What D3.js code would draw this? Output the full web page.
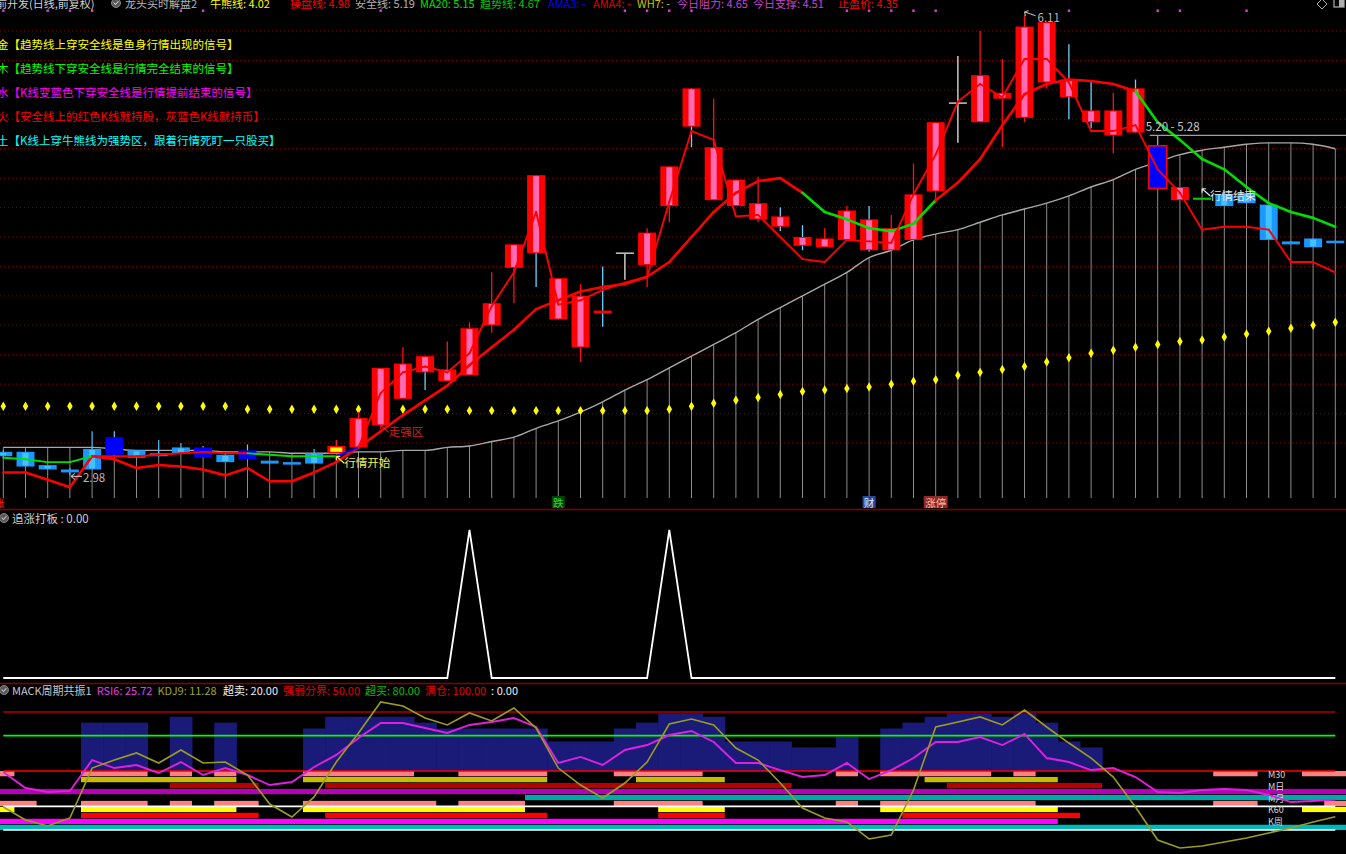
<!DOCTYPE html>
<html><head><meta charset="utf-8">
<script src="https://cdn.jsdelivr.net/npm/d3@7"></script>
<style>
html,body{margin:0;padding:0;background:#000;overflow:hidden}
svg{display:block}
text{font-family:"Noto Sans CJK SC","Noto Sans",sans-serif}
</style>
</head><body>
<svg id="c" width="1346" height="854"></svg>
<script>
// ---------------- DATA ----------------
const open  = [3.14,3.14,3.05,3.02,3.02,3.24,3.15,3.11,3.13,3.17,3.12,3.15,3.08,3.07,3.06,3.13,3.17,3.32,3.50,3.79,3.62,3.66,4.00,4.39,5.02,4.32,3.85,4.10,4.49,4.41,4.81,5.61,4.85,4.81,4.72,4.74,4.60,4.53,4.58,4.72,4.51,4.58,4.91,5.51,5.38,5.54,5.41,5.65,5.67,5.46,5.29,5.61,5.22,4.85,4.86,4.89,4.83,4.82,4.57,4.53,4.575];
const high  = [3.15,3.14,3.05,3.03,3.28,3.28,3.15,3.22,3.20,3.18,3.12,3.19,3.08,3.07,3.16,3.22,3.41,3.71,3.85,3.79,3.89,4.02,4.36,4.55,5.02,4.32,4.28,4.40,4.49,4.66,5.08,5.61,5.54,4.99,5.01,4.80,4.68,4.66,4.81,4.81,4.75,5.10,5.38,5.83,6.00,5.81,6.11,6.06,5.91,5.66,5.58,5.67,5.29,4.94,4.86,4.89,4.90,4.82,4.57,4.59,4.575];
const low   = [3.10,3.04,3.02,2.98,3.02,3.12,3.10,3.11,3.13,3.10,3.07,3.09,3.06,3.06,3.06,3.13,3.17,3.32,3.50,3.56,3.62,3.66,3.95,4.15,4.26,4.04,3.75,3.99,4.31,4.26,4.70,5.21,4.85,4.81,4.70,4.64,4.51,4.53,4.58,4.50,4.51,4.58,4.83,5.24,5.38,5.21,5.38,5.61,5.40,5.34,5.17,5.31,4.93,4.85,4.86,4.81,4.83,4.58,4.55,4.53,4.568];
const close = [3.11,3.04,3.02,3.00,3.16,3.12,3.10,3.13,3.17,3.10,3.07,3.09,3.06,3.065,3.13,3.18,3.37,3.71,3.74,3.68,3.70,3.98,4.15,4.55,4.49,4.04,4.20,4.08,4.49,4.63,5.08,5.35,5.21,4.99,4.83,4.67,4.54,4.59,4.78,4.51,4.66,4.89,5.38,5.51,5.70,5.58,6.03,6.06,5.55,5.38,5.46,5.31,4.93,4.94,4.86,4.81,4.90,4.58,4.55,4.59,4.57];
// candle colour class: b light blue, d dark blue, D dark blue framed, y yellow, r red, g grey doji, n green doji
const candleKind = "bbbbbdbbbdbdbbbyrrrrrrrrrrrrgrrrrrrrrrrrrrrgrrrrrrrrDrnbbbbbb".split("");

const trendLine = [3.00,3.00,2.95,2.90,3.11,3.09,3.03,3.05,3.04,3.02,2.98,3.03,2.94,2.94,3.00,3.07,3.17,3.28,3.39,3.49,3.59,3.73,3.85,3.97,4.11,4.17,4.23,4.26,4.28,4.33,4.43,4.60,4.77,4.90,4.98,5.00,4.90,4.77,4.72,4.66,4.64,4.69,4.85,4.97,5.13,5.36,5.57,5.64,5.67,5.66,5.64,5.59,5.38,5.26,5.13,5.06,4.94,4.83,4.77,4.73,4.67];
// segment state i->i+1 : r red, g green
const trendSeg = "rrrrrrrrrrrrrrrrrrrrrrrrrrrrrrrrrrrrggggggrrrrrrrrrggggggggg".split("");
const fastLine = [3.10,3.09,3.07,3.07,3.11,3.11,3.11,3.12,3.13,3.14,3.13,3.13,3.12,3.11,3.11,3.11,3.17,3.54,3.68,3.72,3.68,3.81,4.13,4.36,4.77,4.14,4.17,4.24,4.29,4.33,4.84,5.32,5.26,4.74,4.75,4.60,4.45,4.43,4.58,4.57,4.56,4.89,5.16,5.52,5.64,5.55,5.81,5.81,5.65,5.32,5.32,5.36,5.06,4.90,4.65,4.67,4.67,4.65,4.43,4.43,4.36];
const fastSeg = "ggggrrrrrrrggggbrrrrrrrrrrrrrrrrrrrrrrrrrrrrrrrrrrrrrrrrrrrr".split("");
const safetyLine = [3.17,3.17,3.17,3.17,3.17,3.16,3.15,3.15,3.15,3.15,3.14,3.14,3.14,3.13,3.13,3.13,3.14,3.14,3.15,3.15,3.17,3.18,3.21,3.24,3.30,3.35,3.41,3.48,3.56,3.63,3.71,3.79,3.87,3.95,4.04,4.12,4.20,4.28,4.36,4.46,4.51,4.58,4.62,4.65,4.70,4.75,4.79,4.83,4.88,4.94,4.99,5.06,5.11,5.16,5.19,5.21,5.23,5.24,5.24,5.23,5.20];
const bullBear = [3.45,3.45,3.45,3.45,3.45,3.45,3.45,3.45,3.45,3.45,3.45,3.43,3.43,3.43,3.43,3.43,3.43,3.43,3.43,3.43,3.43,3.42,3.42,3.42,3.42,3.42,3.42,3.42,3.42,3.42,3.43,3.45,3.47,3.49,3.51,3.53,3.55,3.56,3.57,3.58,3.60,3.62,3.63,3.66,3.68,3.70,3.72,3.75,3.78,3.81,3.83,3.85,3.87,3.89,3.90,3.92,3.94,3.96,3.98,4.00,4.02];
const gridPrices = [3.2,3.4,3.6,3.8,4.0,4.2,4.4,4.6,4.8,5.0,5.2,5.4,5.6,5.8,6.0];
const topMarks = [0,2,3,4,8,9,17,28,29,30,31,38,39,40,41,42,48,52,53,56];

const headerLabels = ["牛熊线","操盘线","安全线","MA20","趋势线","AMA3","AMA4","WH7","今日阻力","今日支撑","止盈价"];
const headerValues = ["4.02","4.98","5.19","5.15","4.67","-","-","-","4.65","4.51","4.35"];
const legendLines = [
  "金【趋势线上穿安全线是鱼身行情出现的信号】",
  "木【趋势线下穿安全线是行情完全结束的信号】",
  "水【K线变蓝色下穿安全线是行情提前结束的信号】",
  "火【安全线上的红色K线就持股，灰蓝色K线就持币】",
  "土【K线上穿牛熊线为强势区，跟着行情死盯一只股买】"
];
const bottomTags = [[0,"涨"],[25,"跌"],[39,"财"],[42,"涨停"]];
const rangeNote = [5.20, 5.28];

// panel 2
const zhuiZhang = [0,0,0,0,0,0,0,0,0,0,0,0,0,0,0,0,0,0,0,0,0,1,0,0,0,0,0,0,0,0,1,0,0,0,0,0,0,0,0,0,0,0,0,0,0,0,0,0,0,0,0,0,0,0,0,0,0,0,0,0,0];
// panel 3
const macdBar = [0,0,0,0,91,91,91,0,96,0,91,0,0,0,86,96,96,96,96,91,86,86,86,86,86,75,75,75,86,91,99,99,96,75,75,75,70,70,79,0,86,91,96,99,99,96,99,91,75,70,0,0,0,0,0,0,0,0,0,0,0];
const rsi6 = [49.2,35.6,32.2,33.1,59.3,52.5,55.1,48.3,57.6,46.6,52.5,46.6,38.1,40.7,53.4,63.6,78.0,90.7,90.7,86.4,82.2,89.0,91.5,94.9,87.3,56.8,61.9,55.1,67.8,72.0,80.5,83.9,74.6,56.8,56.8,50.8,44.9,46.6,56.8,43.2,50.8,61.0,74.6,74.6,78.8,72.0,81.4,61.0,57.6,50.8,52.5,44.9,32.2,31.4,33.9,34.7,33.9,29.7,23.7,24.6,25.72];
const kdj9 = [19.5,8.5,3.4,10.2,52.5,59.3,65.3,56.8,67.8,56.8,57.6,46.6,22.0,11.0,28.0,57.6,82.2,108.5,105.1,94.9,89.0,99.2,92.4,103.4,86.4,52.5,38.1,27.1,39.8,57.6,89.8,94.1,89.0,69.5,59.3,39.8,18.6,10.2,6.8,-7.6,-4.2,33.9,87.3,91.5,95.8,89.0,101.7,87.3,73.7,61.0,44.9,19.5,-8.5,-15.3,-13.6,-10.2,-6.8,-2.5,1.7,6.8,11.28];
const refLevels = [100, 80, 50, 20, 0];
const stripNames = ["M30a","M30b","MDa","MDb","MYa","MYb","K60a","K60b","KWa","KWb"];
const stripRanges = [
  [[0,0],[4,6],[8,8],[10,10],[14,18],[21,24],[28,31],[38,38],[40,44],[46,46],[55,56],[59,60]],
  [[4,10],[14,24],[29,32],[42,47]],
  [[8,11],[15,35],[43,49]],
  [[0,60]],
  [[24,60]],
  [[0,1],[4,6],[8,8],[10,11],[14,19],[21,23],[28,31],[38,38],[40,46],[55,56],[60,60]],
  [[0,0],[4,10],[14,23],[30,32],[40,47],[59,60]],
  [[4,11],[15,24],[30,32],[41,48]],
  [[0,47]],
  [[0,60]]
];
const stripLabels = ["M30","M日","M月","K60","K周"];
const p3Labels = ["MACK周期共振1","RSI6","KDJ9","超卖","强弱分界","超买","满仓",""];
const p3Values = [null,"25.72","11.28","20.00","50.00","80.00","100.00","0.00"];

// ---------------- DRAW ----------------
const N = close.length;
const svg = d3.select("#c");
svg.append("rect").attr("width",1346).attr("height",854).attr("fill","#000");

const x = d3.scaleLinear().domain([-0.5, 60.5]).range([-7.8, 1346.4]);
const step = x(1) - x(0);
const bodyW = step * 0.81;
const y = d3.scaleLinear().domain([3.2, 6.0]).range([443, 31]);
const yZ = d3.scaleLinear().domain([0, 1]).range([678, 530]);
const yK = d3.scaleLinear().domain([0, 100]).range([830, 712]);
const mainBottom = 498;

// lay out a row of texts left to right: preferred x, never overlapping
function textRow(items, yy, fs, gap) {
  let end = -1e9;
  items.forEach(it => {
    const t = svg.append("text").attr("y",yy).attr("font-size",fs).attr("fill",it.c).text(it.t);
    const xx = Math.max(it.x, end + gap);
    t.attr("x", xx);
    end = xx + t.node().getComputedTextLength();
  });
  return end;
}

// grid
svg.append("g").selectAll("line").data(gridPrices).join("line")
  .attr("x1",0).attr("x2",1346).attr("y1",d=>y(d)).attr("y2",d=>y(d))
  .attr("stroke","#8a0000").attr("stroke-width",1).attr("stroke-dasharray","1,3");

// safety line verticals + curve
svg.append("g").selectAll("line").data(safetyLine).join("line")
  .attr("x1",(d,i)=>x(i)).attr("x2",(d,i)=>x(i)).attr("y1",d=>y(d)).attr("y2",mainBottom)
  .attr("stroke","#8c8c8c").attr("stroke-width",1);
svg.append("path").datum(safetyLine)
  .attr("d", d3.line().x((d,i)=>x(i)).y(d=>y(d)).curve(d3.curveMonotoneX))
  .attr("fill","none").attr("stroke","#a8a8a8").attr("stroke-width",1.4);

// bull/bear dots
svg.append("g").selectAll("path").data(bullBear).join("path")
  .attr("transform",(d,i)=>`translate(${x(i)},${y(d)})`)
  .attr("d", d3.symbol(d3.symbolDiamond, 26))
  .attr("fill","#ffff00");

// candles
const gC = svg.append("g");
for (let i = 0; i < N; i++) {
  const k = candleKind[i], cx = x(i), o = open[i], c = close[i];
  const top = y(Math.max(o,c)), bot = y(Math.min(o,c));
  const bh = Math.max(bot - top, 2.5);
  const bx = cx - bodyW/2;
  const wick = (col, w) => gC.append("line").attr("x1",cx).attr("x2",cx)
      .attr("y1",y(high[i])).attr("y2",y(low[i])).attr("stroke",col).attr("stroke-width",w||1.3);
  if (k === "r") {
    wick(c < o ? "#6ad4ff" : "#ff1010", 1.3);
    gC.append("rect").attr("x",bx).attr("y",top).attr("width",bodyW).attr("height",bh).attr("fill","#ff0000");
    if (bh > 4) gC.append("rect").attr("x",cx-bodyW/6).attr("y",top+1).attr("width",bodyW/3).attr("height",bh-2).attr("fill","#ff6ab4");
  } else if (k === "b") {
    wick("#48c4ff", 1.2);
    gC.append("rect").attr("x",bx).attr("y",top).attr("width",bodyW).attr("height",bh).attr("fill","#1a98ff");
    if (bh > 4) gC.append("rect").attr("x",cx-bodyW/6).attr("y",top+1).attr("width",bodyW/3).attr("height",bh-2).attr("fill","#44c2ff");
  } else if (k === "d" || k === "D") {
    wick("#7ac8ff", 1.2);
    gC.append("rect").attr("x",bx).attr("y",top).attr("width",bodyW).attr("height",bh).attr("fill","#0000ff")
      .attr("stroke", k === "D" ? "#ff0000" : "none").attr("stroke-width",1.6);
  } else if (k === "y") {
    wick("#ff2020", 1.3);
    gC.append("rect").attr("x",bx).attr("y",top).attr("width",bodyW).attr("height",bh).attr("fill","#ff0000");
    gC.append("rect").attr("x",bx+3).attr("y",top+1.5).attr("width",bodyW-6).attr("height",bh-3).attr("fill","#ffff00");
  } else if (k === "g") {
    wick("#e8e8e8", 1.3);
    gC.append("line").attr("x1",bx).attr("x2",bx+bodyW).attr("y1",y(o)).attr("y2",y(o)).attr("stroke","#c8c8c8").attr("stroke-width",1.5);
  } else if (k === "n") {
    gC.append("line").attr("x1",bx).attr("x2",bx+bodyW).attr("y1",y(o)).attr("y2",y(o)).attr("stroke","#00c800").attr("stroke-width",2.2);
  }
}

// lines (segmented colours)
const segColor = {r:"#ff0000", g:"#00dd00", b:"#0000ff"};
function segLine(vals, segs, width) {
  const g = svg.append("g");
  for (let s = 0; s < vals.length - 1; s++) {
    g.append("line").attr("x1",x(s)).attr("y1",y(vals[s])).attr("x2",x(s+1)).attr("y2",y(vals[s+1]))
      .attr("stroke",segColor[segs[s]]).attr("stroke-width",width).attr("stroke-linecap","round");
  }
}
segLine(trendLine, trendSeg, 2.6);
segLine(fastLine, fastSeg, 1.9);

// range note line
const i52 = 52;
svg.append("line").attr("x1",x(i52)-8).attr("x2",1346).attr("y1",y(high[i52])).attr("y2",y(high[i52]))
  .attr("stroke","#a0a0a0").attr("stroke-width",1.2);
svg.append("text").attr("x",x(i52)-12).attr("y",y(high[i52])-4).attr("font-size",11.5).attr("fill","#c8c8c8")
  .text(`${rangeNote[0].toFixed(2)} - ${rangeNote[1].toFixed(2)}`);

// annotations
function arrowNW(px, py, col) {
  svg.append("path").attr("d",`M${px},${py} L${px+8},${py+7} M${px},${py} L${px+4},${py} M${px},${py} L${px},${py+4}`)
    .attr("stroke",col).attr("stroke-width",1.2).attr("fill","none");
}
{
  const i = d3.maxIndex(high), px = x(i), py = y(high[i]);
  svg.append("path").attr("d",`M${px},${py-3} L${px+11},${py+1} M${px},${py-3} L${px+4},${py-4} M${px},${py-3} L${px+1},${py+1}`)
    .attr("stroke","#b8b8b8").attr("stroke-width",1.1).attr("fill","none");
  svg.append("text").attr("x",px+13).attr("y",py+7).attr("font-size",11.5).attr("fill","#b8b8b8").text(high[i].toFixed(2));
}
{
  const i = d3.minIndex(low), px = x(i), py = y(low[i]);
  svg.append("path").attr("d",`M${px+1},${py+1} L${px+12},${py+1} M${px+1},${py+1} L${px+5},${py-2} M${px+1},${py+1} L${px+5},${py+4}`)
    .attr("stroke","#b8b8b8").attr("stroke-width",1.1).attr("fill","none");
  svg.append("text").attr("x",px+13).attr("y",py+7).attr("font-size",11.5).attr("fill","#b8b8b8").text(low[i].toFixed(2));
}
{
  const i = 15, px = x(i), py = y(low[i]) + 3;
  arrowNW(px, py, "#f0f050");
  svg.append("text").attr("x",px+8).attr("y",py+11).attr("font-size",11.5).attr("fill","#f0f050").text("行情开始");
}
{
  const i = 17, px = x(i), py = y(low[i]);
  arrowNW(px, py, "#d02020");
  svg.append("text").attr("x",px+8).attr("y",py+11).attr("font-size",11.5).attr("fill","#d02020").text("走强区");
}
{
  const i = 54, px = x(i), py = y(close[i]) - 10;
  arrowNW(px, py, "#e8e8e8");
  svg.append("text").attr("x",px+8).attr("y",py+11).attr("font-size",11.5).attr("fill","#e8e8e8").text("行情结束");
}

// bottom tags
const tagStyle = {"涨":["#ff2020",null],"跌":["#20e020","#0c3c0c"],"财":["#e0f0ff","#2a4aa0"],"涨停":["#ffb8a8","#8a2a2a"]};
bottomTags.forEach(([i,t]) => {
  const [fg,bg] = tagStyle[t];
  const w = t.length * 11;
  const cx = i === 0 ? x(i) - 4 : x(i);
  if (bg) svg.append("rect").attr("x",cx-w/2-1).attr("y",496).attr("width",w+2).attr("height",12).attr("fill",bg);
  svg.append("text").attr("x",cx).attr("y",506.5).attr("text-anchor","middle").attr("font-size",10.5).attr("fill",fg).text(t);
});

// top magenta marks
svg.append("g").selectAll("rect").data(topMarks).join("rect")
  .attr("x",d=>x(d)-1.2).attr("y",9.5).attr("width",2.4).attr("height",2.4).attr("fill","#e040e0");

// header
function circIcon(cx, cy) {
  svg.append("circle").attr("cx",cx).attr("cy",cy).attr("r",4.5).attr("fill","#5a5a5a").attr("stroke","#9a9a9a").attr("stroke-width",0.8);
  svg.append("path").attr("d",`M${cx-2.2},${cy-0.5} L${cx-0.5},${cy+1.6} L${cx+2.3},${cy-1.8}`).attr("stroke","#e0e0e0").attr("stroke-width",1).attr("fill","none");
}
circIcon(116, 3);
{
  const headerX = [210,290,355,420,480,548,593,637,677,750,838];
  const headerCol = ["#ffff00","#ff0000","#b0b0b0","#00e000","#00c800","#0000ff","#e00000","#c8c000","#d040d0","#d040d0","#ff0000"];
  const items = [{t:"前开发(日线,前复权)",c:"#d0d0d0",x:-4}];
  textRow(items, 8, 11, 4);
  textRow([{t:"龙头买时解盘2",c:"#b8b8b8",x:125}], 8, 11, 4);
  textRow(headerLabels.map((l,k)=>({t:`${l}: ${headerValues[k]}`, c:headerCol[k], x:headerX[k]})), 8, 11, 5);
}
svg.append("path").attr("d","M1322,-1 L1327,4 L1322,9 L1317,4 Z").attr("fill","none").attr("stroke","#b0b0b0").attr("stroke-width",1);
svg.append("rect").attr("x",1334).attr("y",-3).attr("width",10).attr("height",10).attr("fill","none").attr("stroke","#b0b0b0").attr("stroke-width",1.2);
svg.append("rect").attr("x",1339).attr("y",-3).attr("width",5).attr("height",10).attr("fill","#b0b0b0");

// legend lines
const legendCol = ["#ffff00","#00ff00","#ff00ff","#ff0000","#00ffff"];
legendLines.forEach((t,k) => {
  svg.append("text").attr("x",-3).attr("y",49 + k*24).attr("font-size",11.5).attr("fill",legendCol[k]).text(t);
});

// separators
[509.5, 683.5].forEach(v => svg.append("line").attr("x1",0).attr("x2",1346).attr("y1",v).attr("y2",v).attr("stroke","#8a0000").attr("stroke-width",1.5));

// ---- panel 2 ----
circIcon(4, 518);
svg.append("text").attr("x",12).attr("y",522.5).attr("font-size",11.5).attr("fill","#d0d0d0").text(`追涨打板 : ${zhuiZhang[N-1].toFixed(2)}`);
svg.append("path").datum(zhuiZhang)
  .attr("d", d3.line().x((d,i)=>x(i)).y(d=>yZ(d)))
  .attr("fill","none").attr("stroke","#ffffff").attr("stroke-width",1.8);

// ---- panel 3 ----
circIcon(4, 690);
{
  const px = [12,95,157,223,283,364,425,490];
  const pc = ["#c8c8c8","#e040e0","#a0a030","#f0f0f0","#e00000","#00c000","#e00000","#f0f0f0"];
  textRow(p3Labels.map((l,k)=>({t: p3Values[k] === null ? l : `${l}: ${p3Values[k]}`, c:pc[k], x:px[k]})), 694.5, 11, 5);
}
// navy bars from 50 up
svg.append("g").selectAll("rect").data(macdBar.map((v,i)=>[v,i]).filter(d=>d[0]>50)).join("rect")
  .attr("x",d=>x(d[1])-step/2).attr("width",step+0.5)
  .attr("y",d=>yK(d[0])).attr("height",d=>yK(50)-yK(d[0]))
  .attr("fill","#1a1a78");
// strips
const yS = d3.scaleBand().domain(stripNames).range([771, 830]).paddingInner(0.12);
const stripCol = ["#ff8080","#c8bc00","#b40000","#b400b4","#00a8a8","#ff8080","#ffff00","#ff0000","#ff00ff","#00b8b8"];
stripNames.forEach((nm,k) => {
  svg.append("g").selectAll("rect").data(stripRanges[k]).join("rect")
    .attr("x",d=>x(d[0])-step/2).attr("width",d=>x(d[1])-x(d[0])+step)
    .attr("y",yS(nm)).attr("height",yS.bandwidth()).attr("fill",stripCol[k]);
});
// reference lines
const refCol = ["#b00000","#00ff00","#ff0000","#ffffff","#ffffff"];
refLevels.forEach((v,k) => {
  svg.append("line").attr("x1",x(0)).attr("x2",x(N-1)).attr("y1",yK(v)).attr("y2",yK(v))
    .attr("stroke",refCol[k]).attr("stroke-width",1.6);
});
// strip labels
stripLabels.forEach((t,k) => {
  const nm = stripNames[k*2];
  svg.append("text").attr("x",1268).attr("y",yS(nm)+yS.bandwidth()/2+4).attr("font-size",9)
    .attr("fill","#d8d8d8").text(t);
});
// RSI & KDJ
svg.append("path").datum(rsi6).attr("d", d3.line().x((d,i)=>x(i)).y(d=>yK(d)))
  .attr("fill","none").attr("stroke","#e020e0").attr("stroke-width",1.9);
svg.append("path").datum(kdj9).attr("d", d3.line().x((d,i)=>x(i)).y(d=>yK(d)))
  .attr("fill","none").attr("stroke","#9c9c22").attr("stroke-width",1.6);
</script>
</body></html>
